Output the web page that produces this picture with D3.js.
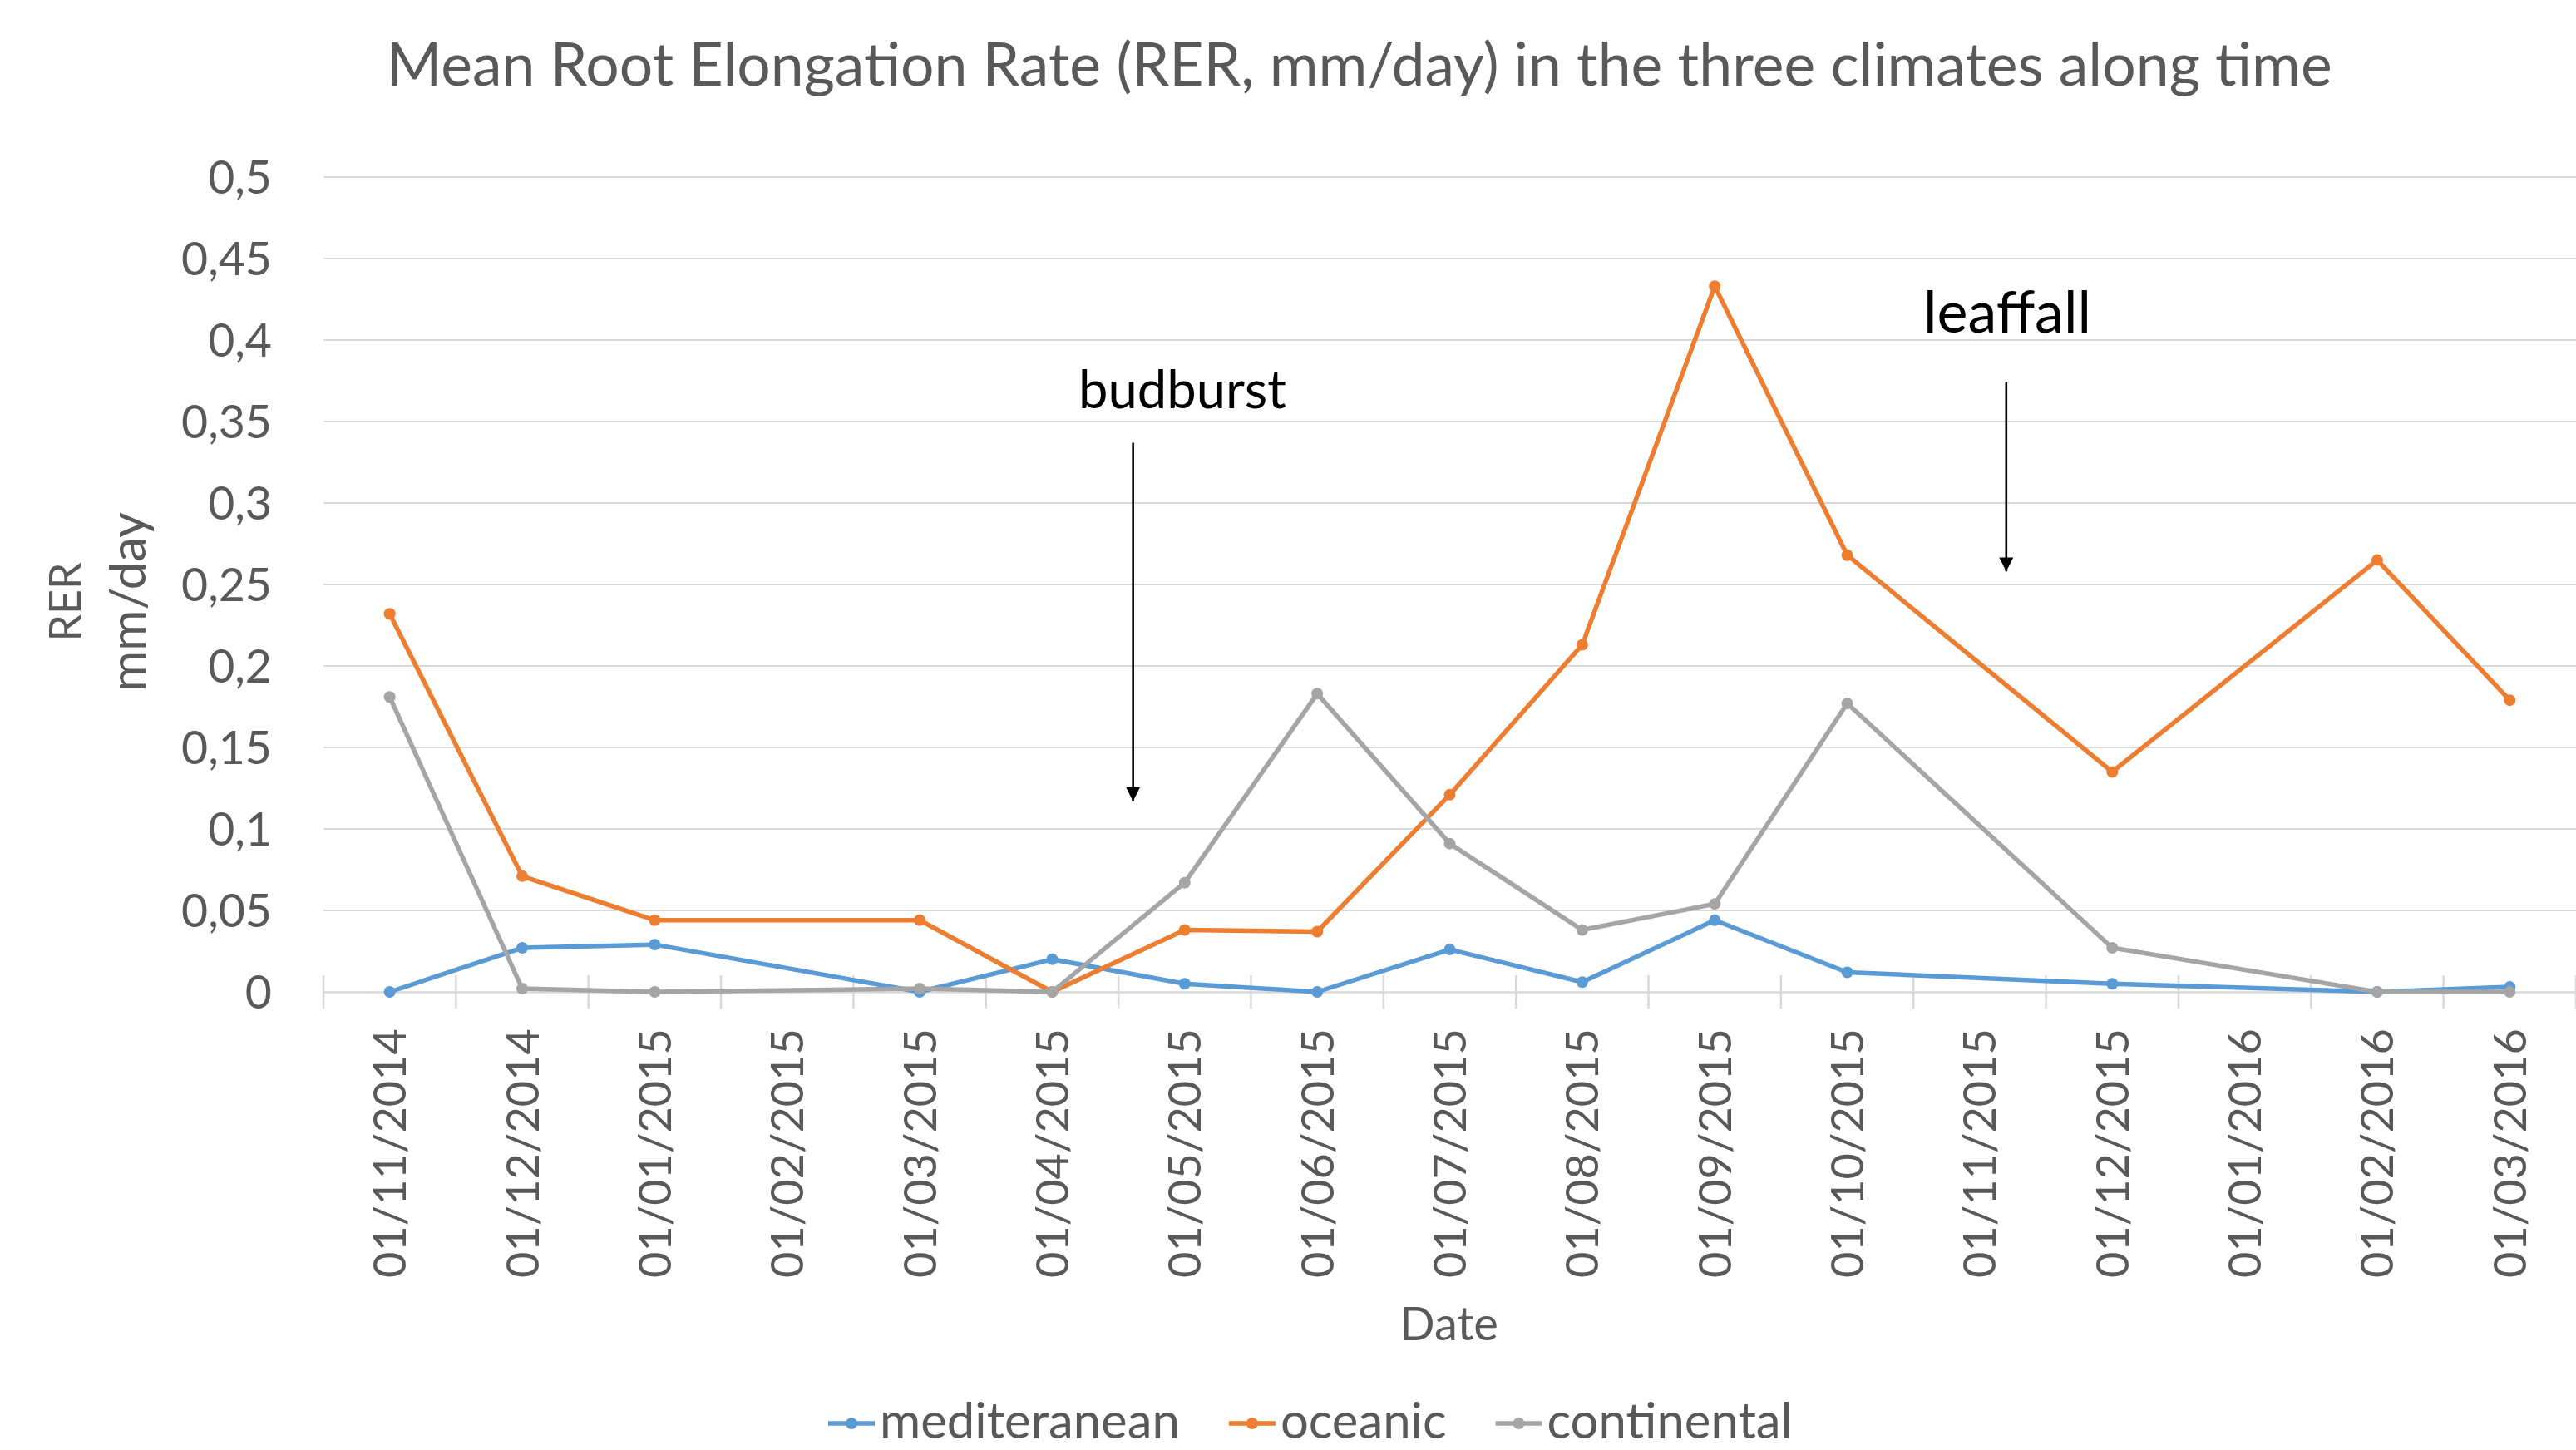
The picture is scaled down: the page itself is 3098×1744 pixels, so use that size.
<!DOCTYPE html>
<html><head><meta charset="utf-8">
<script src="https://cdn.jsdelivr.net/npm/d3@7"></script>
<style>html,body{margin:0;padding:0;background:#fff;}svg{display:block;}</style>
</head><body>
<svg id="chart" width="3098" height="1744"></svg>
<script>
const categories = ["01/11/2014","01/12/2014","01/01/2015","01/02/2015","01/03/2015","01/04/2015","01/05/2015","01/06/2015","01/07/2015","01/08/2015","01/09/2015","01/10/2015","01/11/2015","01/12/2015","01/01/2016","01/02/2016","01/03/2016"];
const mediterranean = [0, 0.027, 0.029, null, 0, 0.020, 0.005, 0, 0.026, 0.006, 0.044, 0.012, null, 0.005, null, 0, 0.003];
const oceanic       = [0.232, 0.071, 0.044, null, 0.044, 0, 0.038, 0.037, 0.121, 0.213, 0.433, 0.268, null, 0.135, null, 0.265, 0.179];
const continental   = [0.181, 0.002, 0, null, 0.002, 0, 0.067, 0.183, 0.091, 0.038, 0.054, 0.177, null, 0.027, null, 0, 0];
const seriesNames = ["mediteranean","oceanic","continental"];
const seriesColors = ["#5B9BD5","#ED7D31","#A5A5A5"];
const yTicks = [0,0.05,0.1,0.15,0.2,0.25,0.3,0.35,0.4,0.45,0.5];
const annotations = [
  {label:"budburst", pos:5.61, top:0.337, tip:0.117, textY:0.358},
  {label:"leaffall", pos:12.2, top:0.3745, tip:0.258, textY:0.4046}
];

const svg = d3.select("#chart");
const L = 389, R = 3098, T = 213, B = 1193;
const x = d3.scaleBand().domain(categories).range([L, R]).paddingInner(0).paddingOuter(0);
const xc = d => x(d) + x.bandwidth()/2;
const xPos = p => L + (p + 0.5) * x.bandwidth();
const y = d3.scaleLinear().domain([0, 0.5]).range([B, T]);
const txt = "#595959";
const sans = "Lato, 'Open Sans', sans-serif";

function fit(sel, w){
  const n = sel.node(); const cur = parseFloat(sel.attr("font-size"));
  const len = n.getComputedTextLength(); sel.attr("font-size", cur * w / len);
  return cur * w / len;
}
function fitSize(str, w){
  const t = svg.append("text").text(str).attr("font-family", sans).attr("font-size", 50);
  const s = fit(t, w); t.remove(); return s;
}

// gridlines
svg.append("g").selectAll("line").data(yTicks.filter(v=>v>0)).join("line")
  .attr("x1", L).attr("x2", R).attr("y1", d=>y(d)).attr("y2", d=>y(d))
  .attr("stroke", "#D9D9D9").attr("stroke-width", 2);

// y axis labels
const ySize = fitSize("0,45", 109);
const yAxis = d3.axisLeft(y).tickValues(yTicks).tickSize(0).tickPadding(0)
  .tickFormat(d => String(d).replace(".", ","));
const gy = svg.append("g").attr("transform", `translate(${327},0)`).call(yAxis);
gy.select(".domain").remove();
gy.selectAll("text").attr("font-family", sans)
  .attr("font-size", ySize).attr("fill", txt).attr("dy", "0.36em");

// x axis
const xSize = fitSize("01/11/2014", 300);
const xAxis = d3.axisBottom(x).tickSize(0).tickPadding(0);
const gx = svg.append("g").attr("transform", `translate(0,${B})`).call(xAxis);
gx.select(".domain").attr("stroke", "#D9D9D9").attr("stroke-width", 2.5);
gx.selectAll(".tick line").remove();
gx.selectAll("text").attr("font-family", sans)
  .attr("font-size", xSize).attr("fill", txt)
  .attr("transform", "translate(0,44) rotate(-90)")
  .attr("text-anchor", "end").attr("dy", "0.36em").attr("y", 0).attr("x", 0);
// boundary tick marks (crossing)
const bounds = categories.map(c => x(c)).concat([R]);
svg.append("g").selectAll("line").data(bounds).join("line")
  .attr("x1", d=>d).attr("x2", d=>d).attr("y1", B-20).attr("y2", B+20)
  .attr("stroke", "#D9D9D9").attr("stroke-width", 2.5);

// series
const allSeries = [mediterranean, oceanic, continental];
const line = d3.line().x(d=>xc(d.c)).y(d=>y(d.v));
allSeries.forEach((vals, i) => {
  const pts = categories.map((c, j) => ({c, v: vals[j]})).filter(d => d.v !== null);
  svg.append("path").datum(pts).attr("d", line).attr("fill", "none")
    .attr("stroke", seriesColors[i]).attr("stroke-width", 5.5).attr("stroke-linejoin", "round");
  svg.append("g").selectAll("circle").data(pts).join("circle")
    .attr("cx", d=>xc(d.c)).attr("cy", d=>y(d.v)).attr("r", 7)
    .attr("fill", seriesColors[i]);
});

// annotations
svg.append("defs").append("marker").attr("id","arrow").attr("viewBox","0 0 10 10")
  .attr("refX", 10).attr("refY", 5).attr("markerWidth", 6.5).attr("markerHeight", 6.5)
  .attr("markerUnits","strokeWidth").attr("orient","auto")
  .append("path").attr("d","M0,0 L10,5 L0,10 z").attr("fill","#000");
annotations.forEach(a => {
  svg.append("line").attr("x1", xPos(a.pos)).attr("x2", xPos(a.pos))
    .attr("y1", y(a.top)).attr("y2", y(a.tip)).attr("stroke", "#000").attr("stroke-width", 2.6)
    .attr("marker-end", "url(#arrow)");
});
const bb = svg.append("text").text("budburst").attr("font-family", sans).attr("font-size", 64)
  .attr("fill", "#000").attr("x", 1297).attr("y", y(annotations[0].textY));
fit(bb, 250);
const lf = svg.append("text").text("leaffall").attr("font-family", sans).attr("font-size", 64)
  .attr("fill", "#000").attr("x", 2313).attr("y", y(annotations[1].textY));
fit(lf, 202);

// title
const title = svg.append("text").text("Mean Root Elongation Rate (RER, mm/day) in the three climates along time")
  .attr("font-family", sans).attr("font-size", 60).attr("fill", txt)
  .attr("x", 465).attr("y", 103);
fit(title, 2340);

// axis titles
const ax1 = svg.append("text").text("RER").attr("font-family", sans).attr("font-size", 58).attr("fill", txt)
  .attr("text-anchor","middle").attr("transform", "translate(97,724) rotate(-90)");
fit(ax1, 95);
const ax2 = svg.append("text").text("mm/day").attr("font-family", sans).attr("font-size", 58).attr("fill", txt)
  .attr("text-anchor","middle").attr("transform", "translate(175,724) rotate(-90)");
fit(ax2, 216);
const dt = svg.append("text").text("Date").attr("font-family", sans).attr("font-size", 58).attr("fill", txt)
  .attr("x", 1683).attr("y", 1612);
fit(dt, 119);

// legend
const lg = svg.append("g");
const lgY = 1712, lgBase = 1730;
const lgSize = fitSize(seriesNames[0], 361);
let cx0 = 996;
seriesNames.forEach((n, i) => {
  lg.append("line").attr("x1", cx0).attr("x2", cx0+56).attr("y1", lgY).attr("y2", lgY)
    .attr("stroke", seriesColors[i]).attr("stroke-width", 5.5);
  lg.append("circle").attr("cx", cx0+28).attr("cy", lgY).attr("r", 7).attr("fill", seriesColors[i]);
  const t = lg.append("text").text(n).attr("font-family", sans).attr("font-size", lgSize)
    .attr("fill", txt).attr("x", cx0+62).attr("y", lgBase);
  cx0 = cx0 + 62 + t.node().getComputedTextLength() + 59;
});
</script>
</body></html>
